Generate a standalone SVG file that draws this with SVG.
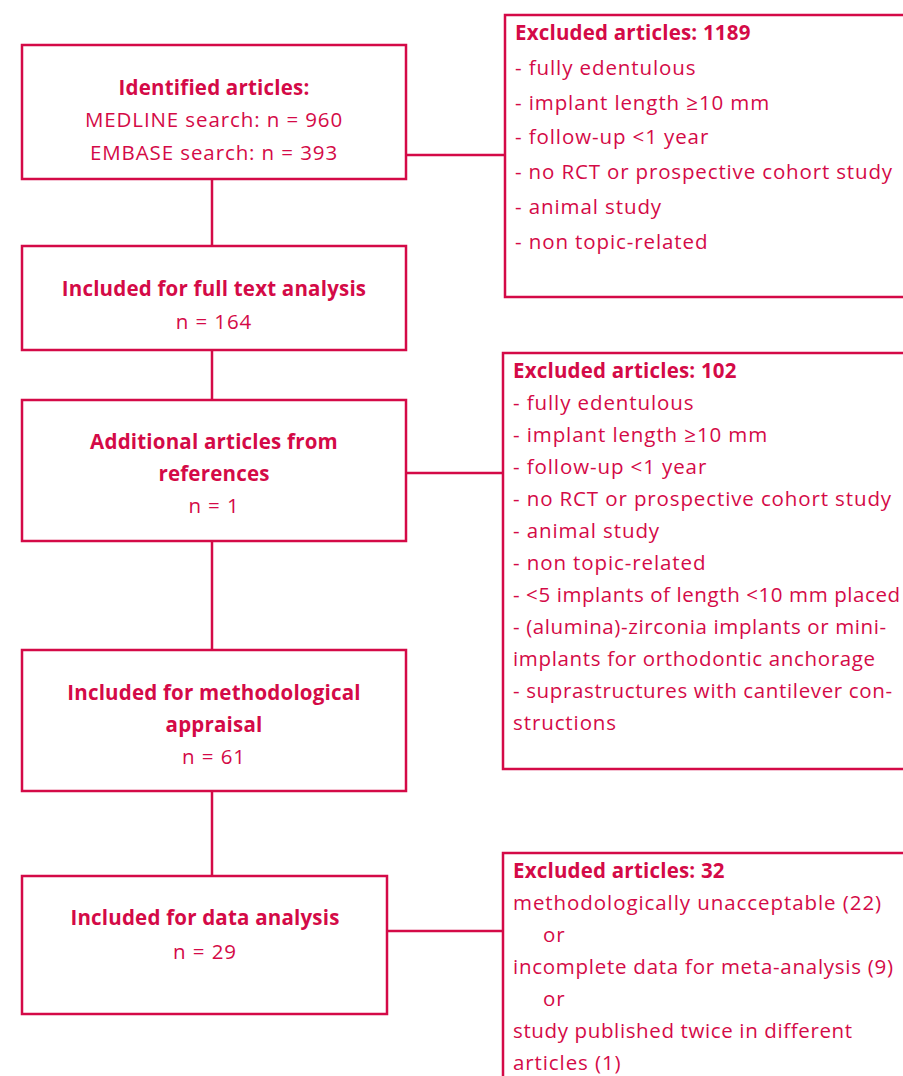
<svg xmlns="http://www.w3.org/2000/svg" width="903" height="1076" viewBox="0 0 903 1076">
<style>
.box{fill:none;stroke:#d40a47;stroke-width:2.5}
.ln{fill:none;stroke:#d40a47;stroke-width:2.5}
text{font-family:"Open Sans","Liberation Sans",sans-serif;font-size:20.5px;fill:#d40a47;letter-spacing:0.9px}
.c{text-anchor:middle}
.b{font-weight:bold;letter-spacing:0.2px}
</style>
<rect width="903" height="1076" fill="#fff"/>
<g id="connectors">
<line class="ln" x1="212" y1="179" x2="212" y2="246"/>
<line class="ln" x1="212" y1="350" x2="212" y2="400"/>
<line class="ln" x1="212" y1="541" x2="212" y2="650"/>
<line class="ln" x1="212" y1="791" x2="212" y2="876"/>
<line class="ln" x1="406" y1="155" x2="505" y2="155"/>
<line class="ln" x1="406" y1="473" x2="503" y2="473"/>
<line class="ln" x1="387" y1="931" x2="503" y2="931"/>
</g>
<g id="identified">
<rect class="box" x="22" y="45" width="384" height="134"/>
<text class="c b" x="214" y="95">Identified articles:</text>
<text class="c" x="214" y="127">MEDLINE search: n = 960</text>
<text class="c" x="214" y="160">EMBASE search: n = 393</text>
</g>
<g id="fulltext">
<rect class="box" x="22" y="246" width="384" height="104"/>
<text class="c b" x="214" y="296">Included for full text analysis</text>
<text class="c" x="214" y="329">n = 164</text>
</g>
<g id="additional">
<rect class="box" x="22" y="400" width="384" height="141"/>
<text class="c b" x="214" y="449">Additional articles from</text>
<text class="c b" x="214" y="481">references</text>
<text class="c" x="214" y="513">n = 1</text>
</g>
<g id="methodological">
<rect class="box" x="22" y="650" width="384" height="141"/>
<text class="c b" x="214" y="700">Included for methodological</text>
<text class="c b" x="214" y="732">appraisal</text>
<text class="c" x="214" y="764">n = 61</text>
</g>
<g id="data">
<rect class="box" x="22" y="876" width="365" height="138"/>
<text class="c b" x="205" y="925">Included for data analysis</text>
<text class="c" x="205" y="959">n = 29</text>
</g>
<g id="excluded1">
<rect class="box" x="505" y="15" width="420" height="282"/>
<text class="b" x="515" y="40">Excluded articles: 1189</text>
<text x="515" y="75">- fully edentulous</text>
<text x="515" y="110">- implant length ≥10 mm</text>
<text x="515" y="144">- follow-up &lt;1 year</text>
<text x="515" y="179" textLength="378" lengthAdjust="spacing">- no RCT or prospective cohort study</text>
<text x="515" y="214">- animal study</text>
<text x="515" y="249">- non topic-related</text>
</g>
<g id="excluded2">
<rect class="box" x="503" y="353" width="420" height="416"/>
<text class="b" x="513" y="378">Excluded articles: 102</text>
<text x="513" y="410">- fully edentulous</text>
<text x="513" y="442">- implant length ≥10 mm</text>
<text x="513" y="474">- follow-up &lt;1 year</text>
<text x="513" y="506" textLength="379" lengthAdjust="spacing">- no RCT or prospective cohort study</text>
<text x="513" y="538">- animal study</text>
<text x="513" y="570">- non topic-related</text>
<text x="513" y="602" textLength="388" lengthAdjust="spacing">- &lt;5 implants of length &lt;10 mm placed</text>
<text x="513" y="634" textLength="374" lengthAdjust="spacing">- (alumina)-zirconia implants or mini-</text>
<text x="513" y="666" textLength="363" lengthAdjust="spacing">implants for orthodontic anchorage</text>
<text x="513" y="698" textLength="380" lengthAdjust="spacing">- suprastructures with cantilever con-</text>
<text x="513" y="730">structions</text>
</g>
<g id="excluded3">
<rect class="box" x="503" y="853" width="420" height="240"/>
<text class="b" x="513" y="878">Excluded articles: 32</text>
<text x="513" y="910" textLength="369" lengthAdjust="spacing">methodologically unacceptable (22)</text>
<text x="543" y="942">or</text>
<text x="513" y="974" textLength="381" lengthAdjust="spacing">incomplete data for meta-analysis (9)</text>
<text x="543" y="1006">or</text>
<text x="513" y="1038" textLength="340" lengthAdjust="spacing">study published twice in different</text>
<text x="513" y="1070">articles (1)</text>
</g>
</svg>
